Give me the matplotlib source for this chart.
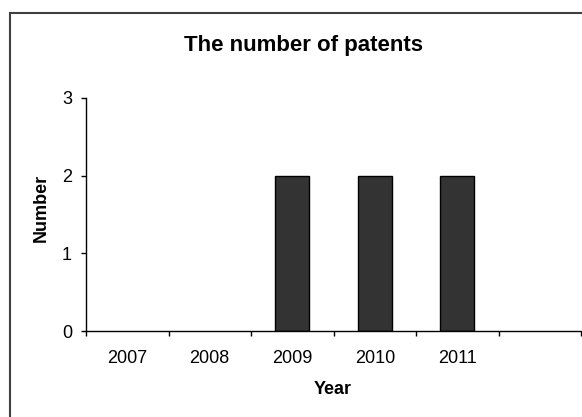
import numpy as np
import matplotlib.pyplot as plt
from matplotlib.patches import Rectangle

# data
years = ["2007", "2008", "2009", "2010", "2011", ""]
patents = [0, 0, 2, 2, 2, 0]

plt.rcParams['font.family'] = ['Liberation Sans', 'DejaVu Sans']

W, H = 582, 417
fig = plt.figure(figsize=(W / 100, H / 100), dpi=100)
ax = fig.add_axes([86 / W, 1 - 331 / H, (581 - 86) / W, (331 - 98) / H])

x = np.arange(len(years))
vals = np.array(patents)
keep = vals > 0
ax.bar(x[keep], vals[keep], width=0.41, color='#333333', edgecolor='black', linewidth=1)

ax.set_xlim(-0.5, len(years) - 0.5)
ax.set_ylim(0, 3)
ax.set_yticks([0, 1, 2, 3])
ax.set_xticks(x)
ax.set_xticklabels(years)
ax.set_xticks(np.arange(len(years) + 1) - 0.5, minor=True)

ax.tick_params(axis='x', which='major', length=0, pad=14, labelsize=13)
ax.tick_params(axis='x', which='minor', length=3.6, width=1, direction='out')
ax.tick_params(axis='y', length=3.6, width=1, direction='out', pad=6.5, labelsize=13)

for s in ['top', 'right']:
    ax.spines[s].set_visible(False)
for s in ['left', 'bottom']:
    ax.spines[s].set_linewidth(1)

fig.text(333 / W, 1 - 389 / H, "Year", ha='center', va='center', fontsize=13, fontweight='bold')
fig.text(41 / W, 1 - 208 / H, "Number", ha='center', va='center', rotation=90,
         fontsize=13, fontweight='bold')
fig.text(304 / W, 1 - 45 / H, "The number of patents", ha='center', va='center',
         fontsize=16, fontweight='bold')

# chart frame (cropped on the right and bottom)
fig.add_artist(Rectangle((10 / W, -0.1), 1.0, 1 - 13 / H + 0.1, transform=fig.transFigure,
                         fill=False, edgecolor='#404040', linewidth=1.5))

fig.savefig("out.png", dpi=100)
